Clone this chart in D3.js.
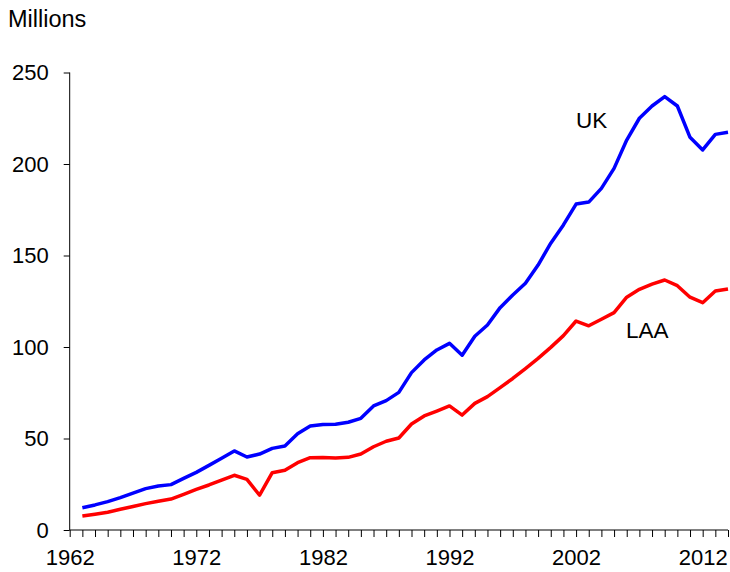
<!DOCTYPE html>
<html>
<head>
<meta charset="utf-8">
<script src="https://cdn.jsdelivr.net/npm/d3@7"></script>
<style>
  body { margin: 0; background: #fff; }
  svg { display: block; font-family: "Liberation Sans", Arial, Helvetica, sans-serif; }
</style>
</head>
<body>
<svg id="chart" width="730" height="572"></svg>
<script>
// values in millions, 1963-2014
const years = d3.range(1963, 2015);
const ukValues = [12.2, 13.7, 15.5, 17.7, 20.2, 22.6, 24.0, 24.8, 28.2, 31.5,
  35.3, 39.2, 43.2, 39.9, 41.5, 44.6, 45.9, 52.6, 56.8, 57.7,
  57.8, 58.9, 61.0, 67.8, 70.7, 75.2, 86.0, 92.9, 98.4, 102.0,
  95.5, 105.9, 112.0, 121.5, 128.4, 134.8, 144.8, 156.7, 166.7, 178.1,
  179.2, 186.7, 197.6, 213.1, 225.0, 231.7, 236.8, 231.7, 214.6, 207.7,
  216.2, 217.3];
const laaValues = [7.6, 8.6, 9.7, 11.3, 12.8, 14.4, 15.7, 16.9, 19.5, 22.2,
  24.6, 27.3, 29.9, 27.7, 19.0, 31.3, 32.6, 36.8, 39.5, 39.6,
  39.4, 39.7, 41.5, 45.5, 48.5, 50.3, 57.9, 62.3, 65.0, 67.8,
  62.8, 69.2, 72.9, 77.8, 82.8, 88.2, 93.8, 99.8, 106.2, 114.2,
  111.6, 115.2, 118.8, 127.2, 131.5, 134.4, 136.6, 133.5, 127.2, 124.2,
  130.6, 131.7];
const yTicks = [0, 50, 100, 150, 200, 250];
const xLabelYears = [1962, 1972, 1982, 1992, 2002, 2012];

const svg = d3.select('#chart');
const x = d3.scaleLinear().domain([1962, 2014]).range([69.7, 728]);
const y = d3.scaleLinear().domain([0, 250]).range([530, 72.5]);

// y axis
const yAxis = d3.axisLeft(y).tickValues(yTicks).tickSize(6).tickPadding(15);
svg.append('g').attr('transform', 'translate(' + x(1962) + ',0)').call(yAxis)
  .call(g => g.select('.domain').attr('d', 'M0,' + y(250) + 'V' + y(0)));

// x axis, a tick every year and a label every ten
const xAxis = d3.axisBottom(x).tickValues(d3.range(1962, 2015)).tickSize(7).tickPadding(12)
  .tickFormat(d => xLabelYears.includes(d) ? d : '');
svg.append('g').attr('transform', 'translate(0,' + y(0) + ')').call(xAxis)
  .call(g => g.select('.domain').attr('d', 'M' + x(1962) + ',0H' + x(2014)));

svg.selectAll('.tick text').attr('font-size', 22).attr('fill', '#000')
  .attr('font-family', '"Liberation Sans", Arial, sans-serif');
svg.selectAll('.tick line').attr('stroke', '#000');
svg.selectAll('.domain').attr('stroke', '#000');

const line = d3.line().x((d, i) => x(years[i])).y(d => y(d));

svg.append('path').datum(laaValues)
  .attr('fill', 'none').attr('stroke', '#ff0000').attr('stroke-width', 3.5)
  .attr('stroke-linejoin', 'round').attr('d', line);
svg.append('path').datum(ukValues)
  .attr('fill', 'none').attr('stroke', '#0000ff').attr('stroke-width', 3.5)
  .attr('stroke-linejoin', 'round').attr('d', line);

// labels
svg.append('text').text('Millions').attr('x', 8).attr('y', 27).attr('font-size', 23.5);
svg.append('text').text('UK').attr('x', 576).attr('y', 128).attr('font-size', 22.5);
svg.append('text').text('LAA').attr('x', 626).attr('y', 338).attr('font-size', 22.5);
</script>
</body>
</html>
